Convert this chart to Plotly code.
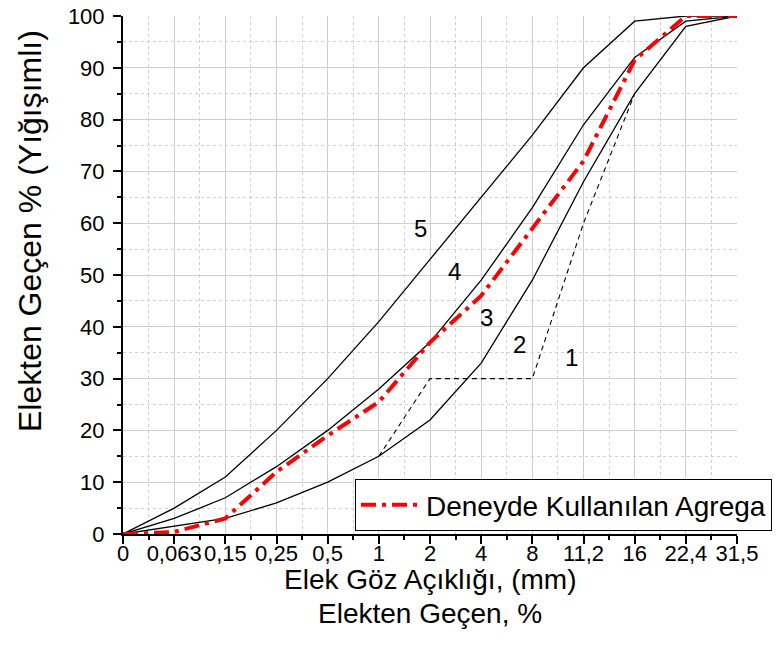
import plotly.graph_objects as go

sieve_labels = ["0", "0,063", "0,15", "0,25", "0,5", "1", "2", "4", "8", "11,2", "16", "22,4", "31,5"]
idx = list(range(len(sieve_labels)))

curve5 = [0, 5, 11, 20, 30, 41, 53, 65, 77, 90, 99, 100, 100]
curve4 = [0, 3, 7, 13, 20, 28, 37, 49, 63, 79, 92, 99, 100]
curve_low = [0, 1.5, 3, 6, 10, 15, 22, 33, 49, 68, 85, 98, 100]
u_idx = [5, 6, 7, 8, 9, 10]
u_curve = [15, 30, 30, 30, 60, 85]
agrega = [0, 0.4, 3, 12, 19, 25.5, 37, 46, 59, 72, 91.5, 100, 100]

zone_labels = ["5", "4", "3", "2", "1"]
zone_x = [5.82, 6.47, 7.11, 7.74, 8.76]
zone_y = [58.9, 50.6, 41.7, 36.5, 34.0]

FONT = "Liberation Sans, Arial, sans-serif"

fig = go.Figure()
for yv in (curve5, curve4, curve_low):
    fig.add_trace(go.Scatter(x=idx, y=yv, mode="lines", line=dict(color="black", width=1.3),
                             showlegend=False, hoverinfo="skip"))
fig.add_trace(go.Scatter(x=u_idx, y=u_curve, mode="lines",
                         line=dict(color="black", width=1.1, dash="5px,4px"),
                         showlegend=False, hoverinfo="skip"))
fig.add_trace(go.Scatter(x=idx, y=agrega, mode="lines", name="Deneyde Kullanılan Agrega",
                         line=dict(color="#ff0000", width=4, dash="15px,6px,4px,6px")))

for t, xx, yy in zip(zone_labels, zone_x, zone_y):
    fig.add_annotation(x=xx, y=yy, text=t, showarrow=False, xref="x", yref="y",
                       font=dict(size=24, color="black", family=FONT))

W, H = 776, 659
L, R, T, B = 123, 39, 16, 125
pw, ph = W - L - R, H - T - B

def px_to_paper_y(py):
    return (H - B - py) / ph

def px_to_paper_x(px):
    return (px - L) / pw

fig.add_annotation(x=px_to_paper_x(30), y=px_to_paper_y(231), xref="paper", yref="paper",
                   text="Elekten Geçen % (Yığışımlı)", textangle=-90, showarrow=False,
                   xanchor="center", yanchor="middle",
                   font=dict(size=32, color="black", family=FONT))
fig.add_annotation(x=0.5, y=px_to_paper_y(579), xref="paper", yref="paper",
                   text="Elek Göz Açıklığı, (mm)", showarrow=False,
                   xanchor="center", yanchor="middle",
                   font=dict(size=28, color="black", family=FONT))
fig.add_annotation(x=0.5, y=px_to_paper_y(613), xref="paper", yref="paper",
                   text="Elekten Geçen, %", showarrow=False,
                   xanchor="center", yanchor="middle",
                   font=dict(size=28, color="black", family=FONT))

fig.update_layout(
    width=W, height=H,
    margin=dict(l=L, r=R, t=T, b=B, autoexpand=False),
    plot_bgcolor="white", paper_bgcolor="white",
    font=dict(family=FONT, size=22, color="black"),
    legend=dict(x=px_to_paper_x(772), y=px_to_paper_y(531), xanchor="right", yanchor="bottom",
                bordercolor="black", borderwidth=1, bgcolor="white", itemwidth=60,
                font=dict(size=28, family=FONT, color="black")),
    xaxis=dict(range=[0, 12], tickmode="array", tickvals=idx, ticktext=sieve_labels,
               showline=True, linecolor="black", linewidth=2, mirror=False,
               ticks="outside", ticklen=8, tickwidth=2, tickcolor="black",
               ticklabelstandoff=-9,
               showgrid=True, gridcolor="#cfcfcf", gridwidth=1, zeroline=False,
               tickfont=dict(size=22, family=FONT, color="black"),
               minor=dict(dtick=0.5, tick0=0, ticks="outside", ticklen=4, tickwidth=2, tickcolor="black",
                          showgrid=True, gridcolor="#cfcfcf", griddash="dot", gridwidth=1)),
    yaxis=dict(range=[0, 100], dtick=10, tick0=0,
               showline=True, linecolor="black", linewidth=2, mirror=False,
               ticks="outside", ticklen=8, tickwidth=2, tickcolor="black",
               ticklabelstandoff=4,
               showgrid=True, gridcolor="#cfcfcf", gridwidth=1, zeroline=False,
               tickfont=dict(size=22, family=FONT, color="black"),
               minor=dict(dtick=5, tick0=0, ticks="outside", ticklen=4, tickwidth=2, tickcolor="black",
                          showgrid=True, gridcolor="#cfcfcf", griddash="dot", gridwidth=1)),
)

fig.write_html("out.html")
